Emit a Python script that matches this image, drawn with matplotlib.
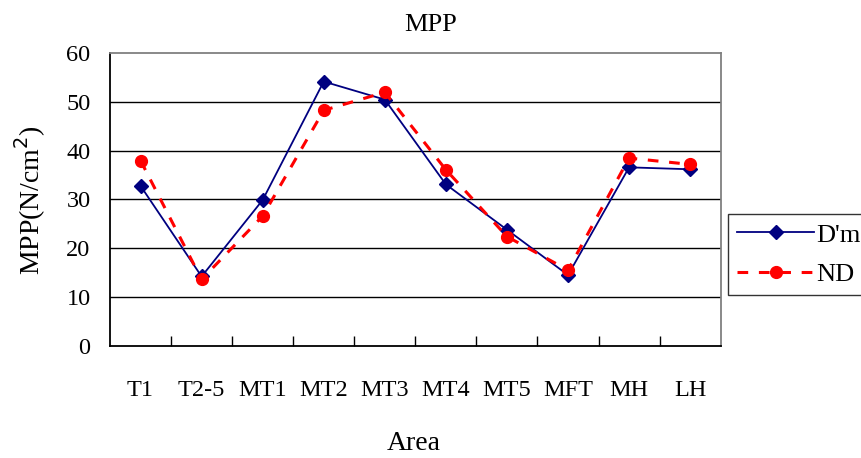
import numpy as np
import matplotlib.pyplot as plt

plt.rcParams['font.family'] = ['Liberation Serif', 'DejaVu Serif']

areas = ['T1', 'T2-5', 'MT1', 'MT2', 'MT3', 'MT4', 'MT5', 'MFT', 'MH', 'LH']
dm = [32.8, 14.2, 29.9, 54.2, 50.5, 33.1, 23.8, 14.5, 36.6, 36.2]
nd = [38.0, 13.6, 26.6, 48.3, 52.0, 36.1, 22.4, 15.5, 38.5, 37.2]

fig = plt.figure(figsize=(8.61, 4.58), dpi=100)
ax = fig.add_axes([110 / 861, 1 - 345.7 / 458, 610.7 / 861, 292.4 / 458])

x = np.arange(len(areas))
ax.plot(x, dm, color='#000080', lw=1.3, marker='D', ms=7, label="D'm", zorder=3)
ax.plot(x, nd, color='#ff0000', lw=2.2, ls=(0, (3.5, 3.5)), marker='o', ms=8.5,
        label='ND', zorder=4)

ax.set_xlim(-0.5, len(areas) - 0.5)
ax.set_ylim(0, 60)
ax.set_yticks(range(0, 61, 10))
for v in range(10, 60, 10):
    ax.axhline(v, color='black', lw=1, zorder=1)

# category labels in the middle, tick marks on the boundaries
ax.set_xticks(x)
ax.set_xticklabels(areas)
ax.tick_params(axis='x', length=0, pad=25, labelsize=17.5)
ax.set_xticks(np.arange(0.5, len(areas) - 0.5), minor=True)
ax.tick_params(axis='x', which='minor', direction='in', length=7, width=1, color='black')
ax.tick_params(axis='y', length=0, pad=14, labelsize=17.5)

ax.spines['left'].set_color('black')
ax.spines['bottom'].set_color('black')
ax.spines['top'].set_color('#808080')
ax.spines['right'].set_color('#808080')
for s in ax.spines.values():
    s.set_linewidth(1.3)

fig.text(0.5, 1 - 25 / 458, 'MPP', ha='center', va='center', fontsize=19)
fig.text(414 / 861, 1 - 443 / 458, 'Area', ha='center', va='center', fontsize=20)
fig.text(30 / 861, 1 - 200 / 458, 'MPP(N/cm$^2$)', ha='center', va='center',
         rotation=90, fontsize=20)

leg = ax.legend(loc='upper left', bbox_to_anchor=(728 / 861, 1 - 214 / 458),
                bbox_transform=fig.transFigure, fontsize=19, frameon=True,
                fancybox=False, borderaxespad=0, borderpad=0.35, handlelength=2.9,
                handletextpad=0.1, labelspacing=0.6)
leg.get_frame().set_edgecolor('black')
leg.get_frame().set_linewidth(1)

fig.savefig('out.png', dpi=100)
